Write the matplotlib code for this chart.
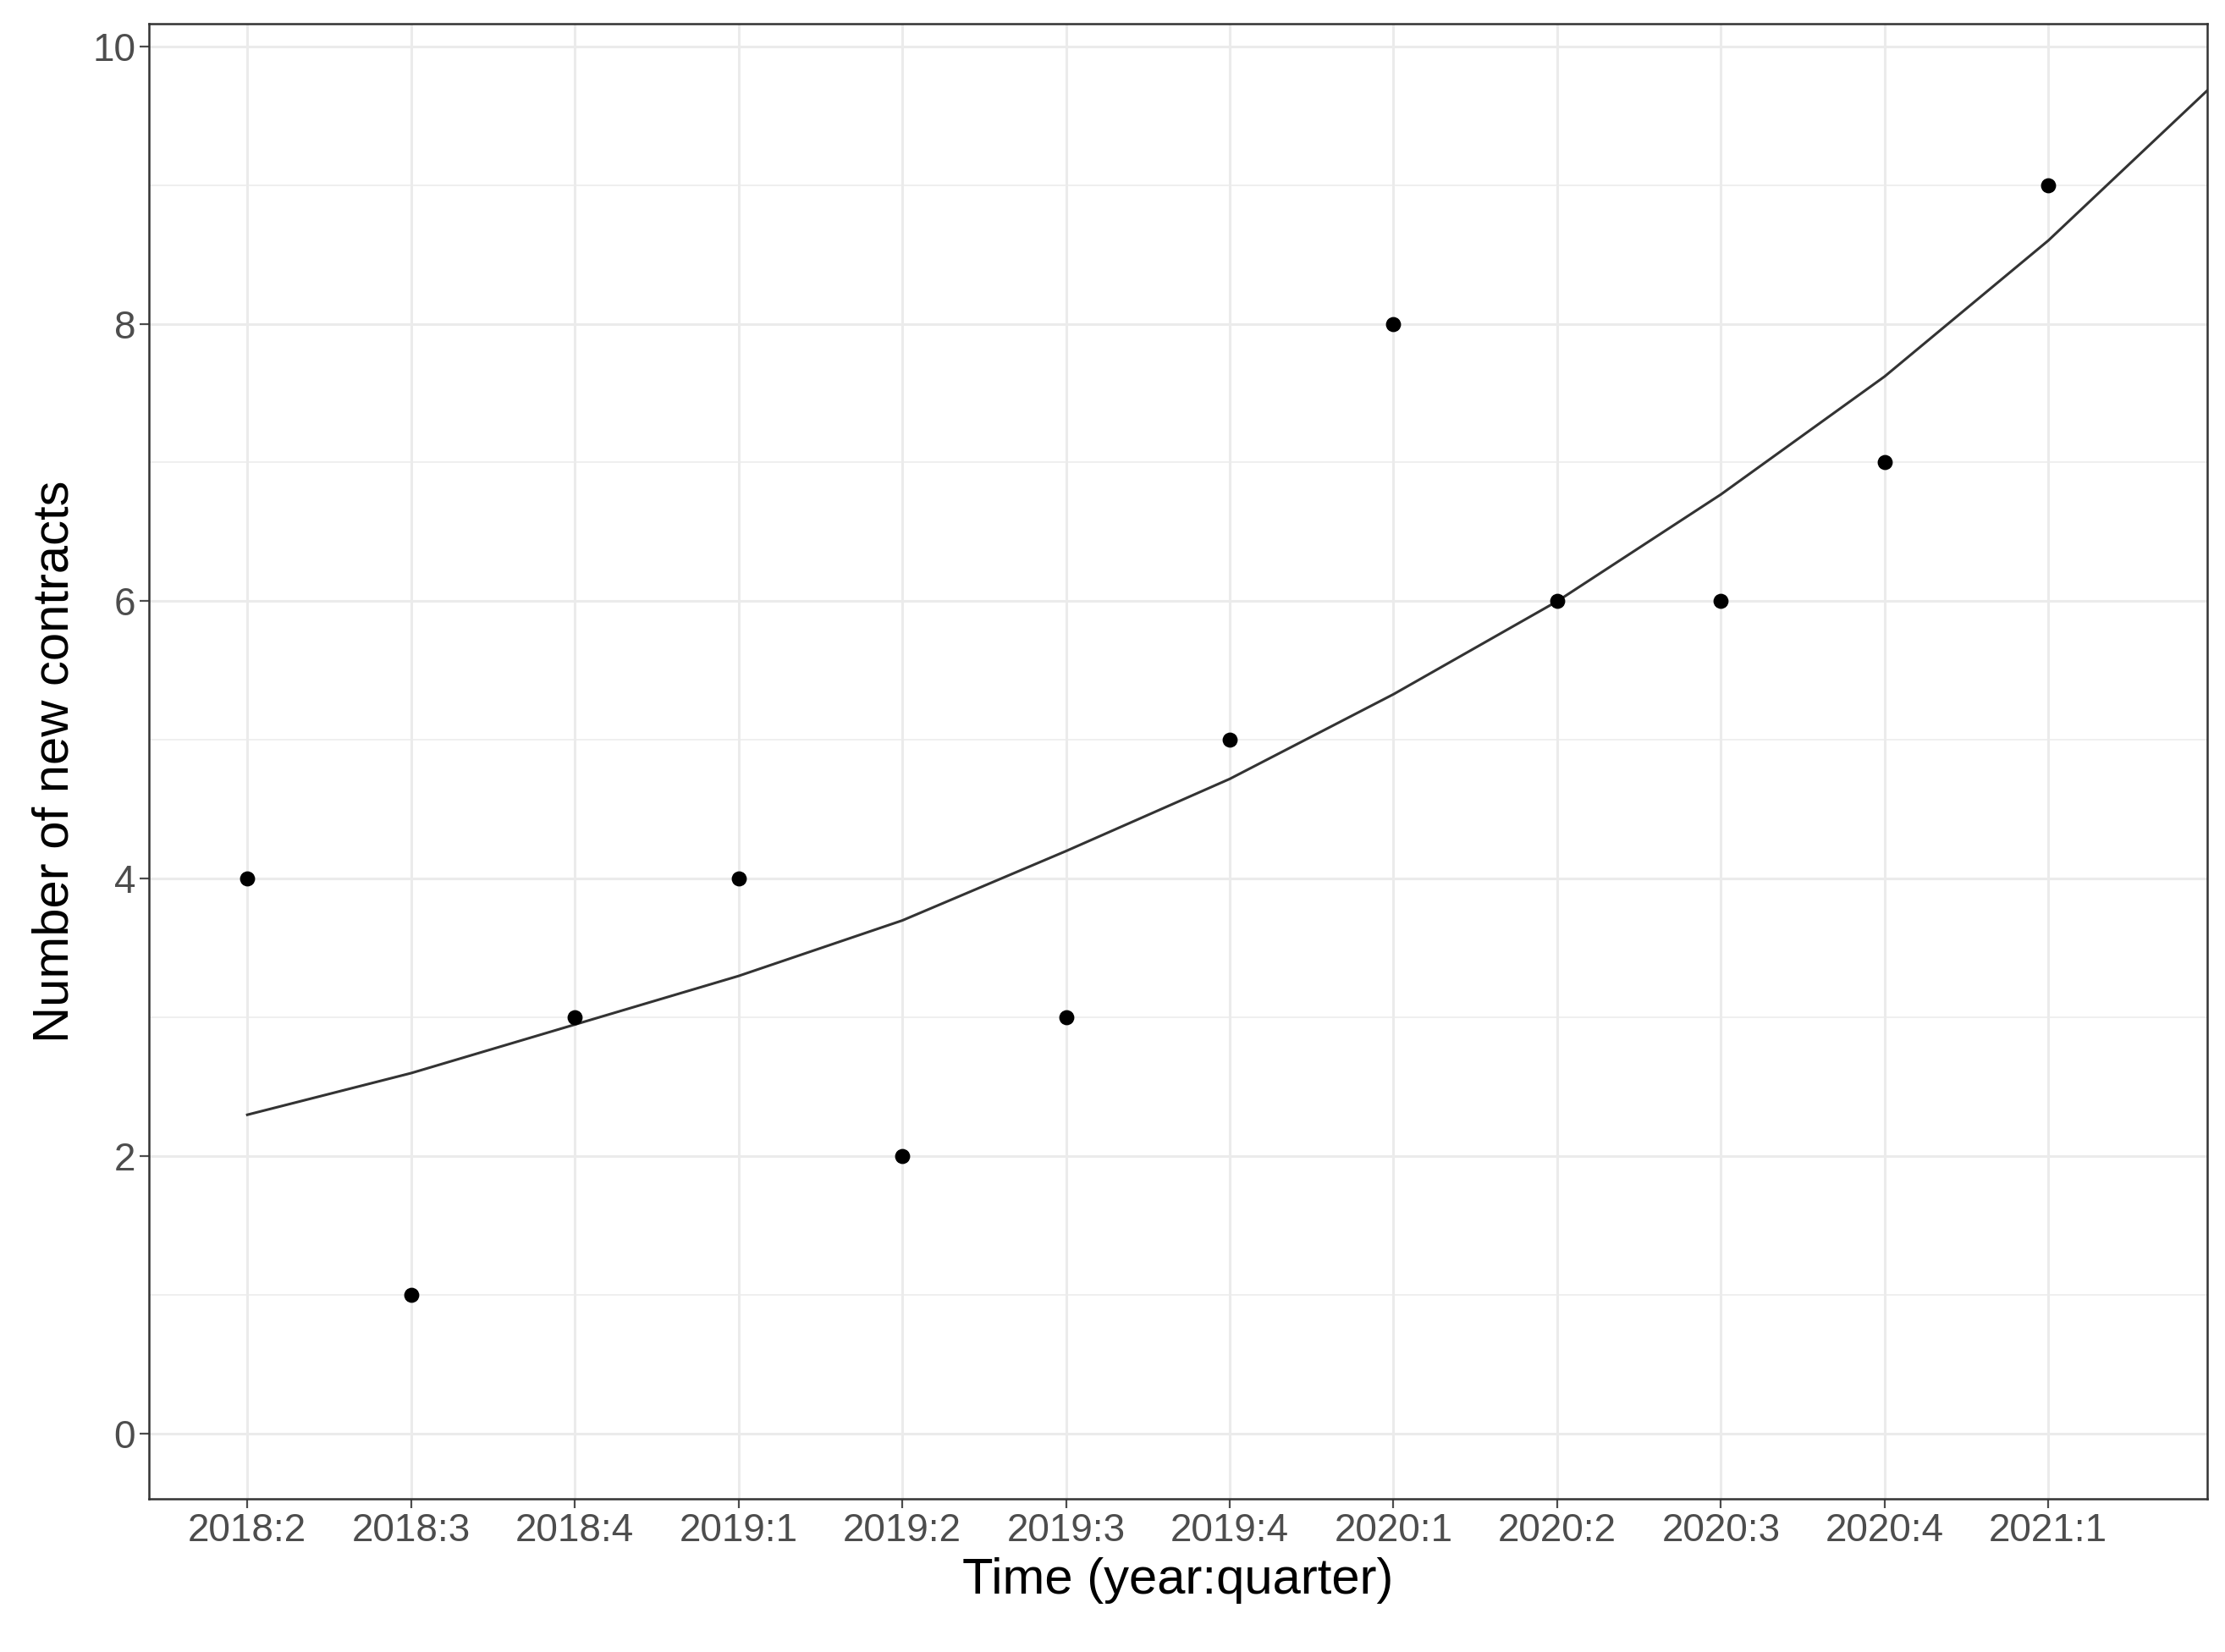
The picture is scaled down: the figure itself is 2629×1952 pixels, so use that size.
import numpy as np
from matplotlib import pyplot as plt

plt.rcParams["font.family"] = ["Liberation Sans", "DejaVu Sans"]

# Quarters and observed counts.
quarters = ["2018:2", "2018:3", "2018:4", "2019:1", "2019:2", "2019:3",
            "2019:4", "2020:1", "2020:2", "2020:3", "2020:4", "2021:1"]
contracts = [4, 1, 3, 4, 2, 3, 5, 8, 6, 6, 7, 9]

# Fitted trend (x in quarter index, 1-based).
trend_x = [1, 2, 3, 4, 5, 6, 7, 8, 9, 10, 11, 12, 12.97]
trend_y = [2.3, 2.6, 2.95, 3.3, 3.7, 4.2, 4.72, 5.33, 6.0, 6.77, 7.62, 8.6, 9.68]

fig = plt.figure(figsize=(26.29, 19.52), dpi=100)
ax = fig.add_axes([0.067, 0.0925, 0.925, 0.893])

x = np.arange(1, len(quarters) + 1)
ax.plot(trend_x, trend_y, color="#333333", lw=2.2, zorder=2)
ax.scatter(x, contracts, s=140, color="black", zorder=3)

ax.set_xlim(0.4, 12.97)
ax.set_ylim(-0.47, 10.16)
ax.set_xticks(x)
ax.set_xticklabels(quarters)
ax.set_yticks(range(0, 11, 2))
ax.set_yticks(range(1, 10, 2), minor=True)
ax.grid(which="major", color="#ebebeb", lw=2.2)
ax.grid(which="minor", color="#ebebeb", lw=1.1)
ax.set_axisbelow(True)
ax.tick_params(axis="both", labelsize=33, colors="#4d4d4d", length=8, width=1.6,
               labelcolor="#4d4d4d")
ax.tick_params(which="minor", length=0)
for s in ax.spines.values():
    s.set_color("#333333")
    s.set_linewidth(1.8)

ax.set_xlabel("Time (year:quarter)", fontsize=43, labelpad=6)
ax.set_ylabel("Number of new contracts", fontsize=43, labelpad=12)

fig.savefig("out.png", dpi=100)
plt.close(fig)
